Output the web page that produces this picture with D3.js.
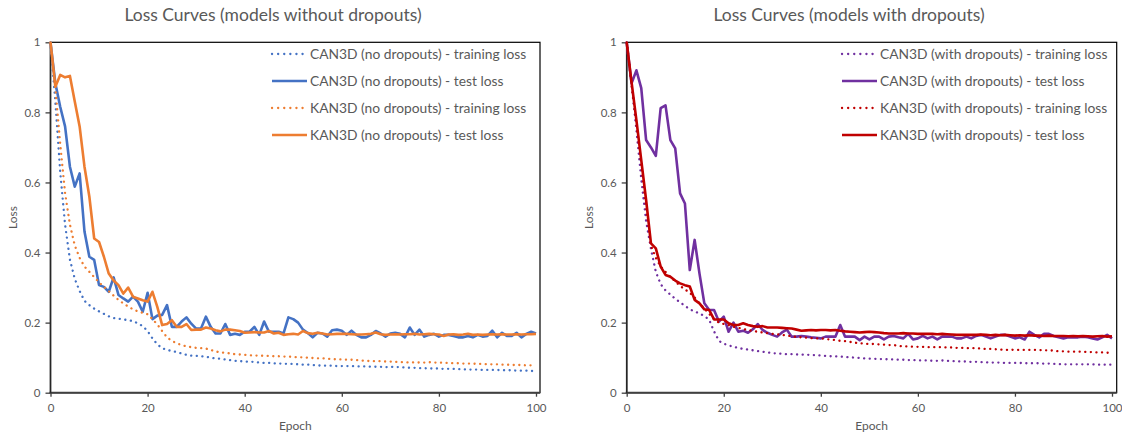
<!DOCTYPE html>
<html lang="en">
<head>
    <script src='https://d3js.org/d3.v7.min.js'></script>
    <style>
        body { margin: 0; background: #fff; }
        text { font-family: Lato, "Open Sans", sans-serif; fill: #595959; }
    </style>
</head>
<body>

<script>
// epochs 0..100
var epochs = d3.range(0, 101);
var xTicks = [0, 20, 40, 60, 80, 100];
var yTicks = [0, 0.2, 0.4, 0.6, 0.8, 1];

// models without dropouts
var canTrainNoDrop = [1.0,0.83,0.63,0.48,0.38,0.325,0.29,0.262,0.25,0.24,
 0.232,0.225,0.218,0.213,0.211,0.209,0.207,0.204,0.198,0.19,
 0.176,0.155,0.138,0.127,0.122,0.119,0.116,0.112,0.108,0.106,
 0.105,0.104,0.103,0.1,0.098,0.097,0.095,0.093,0.091,0.09,
 0.089,0.088,0.088,0.086,0.085,0.085,0.084,0.083,0.083,0.082,
 0.082,0.081,0.08,0.08,0.079,0.078,0.077,0.077,0.077,0.076,
 0.076,0.076,0.076,0.075,0.075,0.075,0.074,0.074,0.074,0.073,
 0.074,0.073,0.073,0.072,0.071,0.071,0.07,0.07,0.069,0.069,
 0.069,0.068,0.068,0.068,0.067,0.067,0.066,0.066,0.066,0.065,
 0.065,0.065,0.065,0.064,0.064,0.064,0.063,0.063,0.063,0.062,0.062];
var canTestNoDrop = [1.0,0.883,0.816,0.76,0.645,0.588,0.626,0.46,0.388,0.379,
 0.307,0.302,0.288,0.329,0.279,0.269,0.26,0.274,0.26,0.231,
 0.285,0.21,0.22,0.222,0.25,0.188,0.188,0.203,0.215,0.197,
 0.183,0.183,0.217,0.188,0.169,0.169,0.196,0.165,0.168,0.165,
 0.174,0.174,0.188,0.165,0.203,0.174,0.174,0.174,0.169,0.215,
 0.21,0.2,0.18,0.17,0.158,0.171,0.169,0.16,0.178,0.18,
 0.177,0.165,0.177,0.165,0.158,0.158,0.165,0.176,0.169,0.16,
 0.169,0.171,0.168,0.158,0.186,0.165,0.18,0.16,0.165,0.168,
 0.16,0.165,0.165,0.162,0.158,0.158,0.162,0.158,0.165,0.16,
 0.162,0.177,0.158,0.171,0.162,0.162,0.171,0.158,0.168,0.174,0.169];
var kanTrainNoDrop = [1.0,0.87,0.71,0.57,0.48,0.42,0.385,0.36,0.345,0.33,
 0.315,0.302,0.29,0.277,0.265,0.255,0.246,0.238,0.232,0.228,
 0.224,0.21,0.195,0.176,0.158,0.148,0.141,0.136,0.132,0.13,
 0.128,0.127,0.126,0.122,0.118,0.115,0.114,0.112,0.11,0.109,
 0.108,0.107,0.106,0.106,0.105,0.105,0.104,0.104,0.103,0.103,
 0.102,0.101,0.101,0.1,0.099,0.098,0.098,0.097,0.096,0.095,
 0.095,0.094,0.094,0.093,0.092,0.091,0.09,0.09,0.09,0.089,
 0.089,0.088,0.087,0.087,0.086,0.087,0.086,0.086,0.087,0.086,
 0.086,0.085,0.085,0.084,0.084,0.083,0.083,0.083,0.082,0.082,
 0.081,0.081,0.081,0.08,0.08,0.079,0.079,0.079,0.078,0.078,0.077];
var kanTestNoDrop = [1.0,0.873,0.907,0.9,0.904,0.831,0.76,0.645,0.56,0.44,
 0.43,0.388,0.34,0.32,0.307,0.283,0.3,0.274,0.269,0.264,
 0.26,0.288,0.245,0.193,0.196,0.207,0.188,0.188,0.196,0.179,
 0.18,0.18,0.186,0.183,0.178,0.175,0.18,0.18,0.178,0.176,
 0.171,0.172,0.173,0.172,0.172,0.176,0.169,0.171,0.165,0.167,
 0.168,0.166,0.176,0.17,0.168,0.171,0.169,0.166,0.167,0.168,
 0.168,0.168,0.167,0.166,0.166,0.167,0.168,0.172,0.167,0.165,
 0.166,0.167,0.166,0.167,0.167,0.168,0.166,0.167,0.168,0.167,
 0.166,0.162,0.166,0.167,0.165,0.166,0.168,0.165,0.166,0.165,
 0.166,0.167,0.166,0.167,0.166,0.166,0.167,0.166,0.167,0.167,0.168];

// models with dropouts
var canTrainDrop = [1.0,0.88,0.75,0.61,0.49,0.41,0.345,0.31,0.292,0.28,
 0.268,0.258,0.248,0.238,0.232,0.226,0.219,0.208,0.175,0.148,
 0.14,0.135,0.131,0.128,0.125,0.123,0.121,0.119,0.117,0.115,
 0.113,0.112,0.111,0.11,0.11,0.109,0.109,0.108,0.108,0.107,
 0.106,0.105,0.104,0.104,0.103,0.102,0.101,0.1,0.099,0.098,
 0.097,0.097,0.096,0.096,0.095,0.095,0.094,0.094,0.093,0.093,
 0.092,0.092,0.092,0.091,0.091,0.092,0.091,0.09,0.09,0.089,
 0.089,0.088,0.088,0.087,0.087,0.086,0.086,0.086,0.085,0.085,
 0.085,0.085,0.084,0.084,0.084,0.084,0.083,0.083,0.082,0.082,
 0.081,0.081,0.081,0.081,0.081,0.081,0.081,0.08,0.08,0.08,0.08];
var canTestDrop = [1.0,0.883,0.92,0.869,0.721,0.7,0.676,0.812,0.82,0.721,
 0.697,0.569,0.54,0.35,0.436,0.34,0.255,0.236,0.236,0.203,
 0.217,0.174,0.2,0.174,0.177,0.171,0.181,0.196,0.179,0.171,
 0.165,0.16,0.172,0.18,0.16,0.16,0.162,0.16,0.158,0.157,
 0.155,0.16,0.16,0.16,0.193,0.16,0.16,0.16,0.15,0.16,
 0.152,0.16,0.16,0.152,0.16,0.162,0.158,0.155,0.168,0.152,
 0.155,0.162,0.155,0.16,0.152,0.16,0.16,0.16,0.155,0.155,
 0.16,0.155,0.162,0.165,0.16,0.155,0.16,0.165,0.165,0.16,
 0.155,0.158,0.152,0.174,0.165,0.158,0.168,0.168,0.162,0.158,
 0.155,0.158,0.158,0.158,0.16,0.158,0.155,0.152,0.158,0.165,0.155];
var kanTrainDrop = [1.0,0.88,0.77,0.65,0.53,0.42,0.385,0.36,0.345,0.33,
 0.318,0.305,0.295,0.285,0.272,0.255,0.24,0.225,0.21,0.2,
 0.196,0.193,0.188,0.185,0.182,0.179,0.176,0.174,0.172,0.17,
 0.168,0.167,0.165,0.163,0.161,0.159,0.158,0.157,0.156,0.155,
 0.155,0.153,0.152,0.15,0.148,0.147,0.145,0.143,0.141,0.14,
 0.139,0.139,0.138,0.137,0.136,0.136,0.134,0.132,0.132,0.131,
 0.131,0.131,0.13,0.13,0.13,0.13,0.129,0.129,0.128,0.128,
 0.127,0.127,0.127,0.126,0.125,0.125,0.124,0.123,0.122,0.123,
 0.122,0.122,0.122,0.122,0.122,0.122,0.121,0.121,0.12,0.118,
 0.118,0.117,0.117,0.117,0.117,0.116,0.116,0.115,0.115,0.114,0.114];
var kanTestDrop = [1.0,0.886,0.778,0.664,0.55,0.426,0.412,0.36,0.336,0.331,
 0.32,0.312,0.307,0.303,0.265,0.255,0.238,0.236,0.209,0.209,
 0.209,0.198,0.193,0.193,0.198,0.193,0.19,0.188,0.19,0.186,
 0.186,0.186,0.185,0.184,0.183,0.18,0.177,0.178,0.179,0.178,
 0.179,0.179,0.178,0.179,0.177,0.175,0.174,0.173,0.172,0.173,
 0.174,0.173,0.172,0.17,0.169,0.169,0.169,0.17,0.169,0.169,
 0.168,0.168,0.168,0.168,0.167,0.168,0.167,0.166,0.165,0.165,
 0.165,0.165,0.165,0.166,0.165,0.164,0.165,0.164,0.165,0.164,
 0.163,0.164,0.163,0.164,0.163,0.163,0.162,0.163,0.162,0.162,
 0.162,0.161,0.162,0.161,0.162,0.161,0.16,0.161,0.162,0.16,0.161];

var blue = "#4472C4", orange = "#ED7D31", purple = "#7030A0", red = "#C00000";

var width = 1122, height = 434;
var svg = d3.select("body").append("svg")
    .attr("width", width)
    .attr("height", height);

function drawPanel(opt) {
    var x = d3.scaleLinear().domain([0, 100]).range([opt.left, opt.right]);
    var y = d3.scaleLinear().domain([0, 1]).range([392.7, 42.3]);
    var g = svg.append("g");

    // title
    g.append("text")
        .attr("x", opt.titleX)
        .attr("y", 21)
        .attr("text-anchor", "middle")
        .style("font-size", "17.5px")
        .text(opt.title);

    // frame
    g.append("rect")
        .attr("x", opt.left)
        .attr("y", y(1))
        .attr("width", opt.frameRight - opt.left)
        .attr("height", y(0) - y(1))
        .attr("fill", "none")
        .attr("stroke", "#000")
        .attr("stroke-width", 1.2);

    // axes
    var xAxis = g.append("g")
        .attr("transform", "translate(0," + y(0) + ")")
        .call(d3.axisBottom(x).tickValues(xTicks).tickSize(4).tickPadding(7));
    var yAxis = g.append("g")
        .attr("transform", "translate(" + opt.left + ",0)")
        .call(d3.axisLeft(y).tickValues(yTicks).tickSize(5).tickPadding(5)
            .tickFormat(d3.format("~g")));
    [xAxis, yAxis].forEach(function (a) {
        a.select(".domain").remove();
        a.selectAll(".tick line").attr("stroke", "#404040").attr("stroke-width", 1.3);
        a.selectAll(".tick text")
            .style("font-family", "Lato, 'Open Sans', sans-serif")
            .style("font-size", "11.5px")
            .attr("fill", "#595959");
    });
    g.append("line")
        .attr("x1", opt.left - 1).attr("x2", opt.frameRight)
        .attr("y1", y(0)).attr("y2", y(0))
        .attr("stroke", "#404040").attr("stroke-width", 2);
    g.append("line")
        .attr("x1", opt.left).attr("x2", opt.left)
        .attr("y1", y(1)).attr("y2", y(0))
        .attr("stroke", "#262626").attr("stroke-width", 1.6);

    // axis titles
    g.append("text")
        .attr("x", (opt.left + opt.frameRight) / 2)
        .attr("y", 430)
        .attr("text-anchor", "middle")
        .style("font-size", "12px")
        .text("Epoch");
    g.append("text")
        .attr("transform", "translate(" + (opt.left - 34) + "," + ((y(0) + y(1)) / 2) + ") rotate(-90)")
        .attr("text-anchor", "middle")
        .style("font-size", "12px")
        .text("Loss");

    var line = d3.line()
        .x(function (d, i) { return x(epochs[i]); })
        .y(function (d) { return y(d); });

    opt.series.forEach(function (s, k) {
        g.append("path")
            .datum(s.values)
            .attr("fill", "none")
            .attr("stroke", s.color)
            .attr("stroke-width", s.dotted ? 2.3 : 2.6)
            .attr("stroke-linejoin", "round")
            .attr("stroke-linecap", s.dotted ? "round" : "butt")
            .attr("stroke-dasharray", s.dotted ? "0.1 5.5" : null)
            .attr("d", line);

        // legend entry
        var ly = 54 + k * 27;
        g.append("line")
            .attr("x1", opt.legendX).attr("x2", opt.legendX + 35)
            .attr("y1", ly).attr("y2", ly)
            .attr("stroke", s.color)
            .attr("stroke-width", s.dotted ? 2.3 : 2.6)
            .attr("stroke-linecap", s.dotted ? "round" : "butt")
            .attr("stroke-dasharray", s.dotted ? "0.1 6" : null);
        g.append("text")
            .attr("x", opt.legendX + 38)
            .attr("y", ly + 4.5)
            .style("font-size", "13.8px")
            .text(s.name);
    });
}

drawPanel({
    left: 50.5, right: 536, frameRight: 540,
    titleX: 273, legendX: 272,
    title: "Loss Curves (models without dropouts)",
    series: [
        { name: "CAN3D (no dropouts) - training loss", values: canTrainNoDrop, color: blue, dotted: true },
        { name: "CAN3D (no dropouts) - test loss", values: canTestNoDrop, color: blue, dotted: false },
        { name: "KAN3D (no dropouts) - training loss", values: kanTrainNoDrop, color: orange, dotted: true },
        { name: "KAN3D (no dropouts) - test loss", values: kanTestNoDrop, color: orange, dotted: false }
    ]
});

drawPanel({
    left: 626.7, right: 1112, frameRight: 1116.7,
    titleX: 849, legendX: 842,
    title: "Loss Curves (models with dropouts)",
    series: [
        { name: "CAN3D (with dropouts) - training loss", values: canTrainDrop, color: purple, dotted: true },
        { name: "CAN3D (with dropouts) - test loss", values: canTestDrop, color: purple, dotted: false },
        { name: "KAN3D (with dropouts) - training loss", values: kanTrainDrop, color: red, dotted: true },
        { name: "KAN3D (with dropouts) - test loss", values: kanTestDrop, color: red, dotted: false }
    ]
});
</script>

</body>
</html>
